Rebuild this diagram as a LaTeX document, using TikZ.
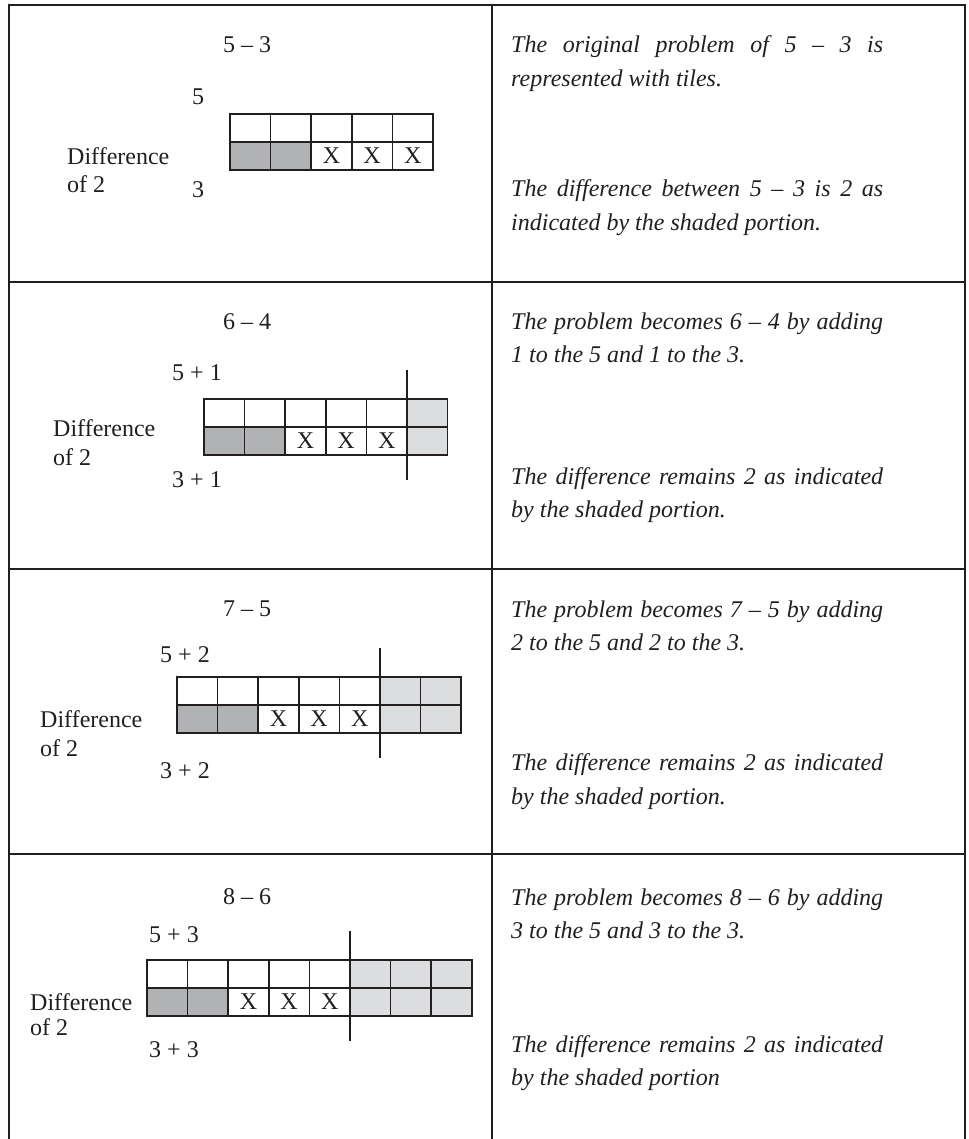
\documentclass[tikz,border=0pt]{standalone}
\usepackage{fontspec}
\setmainfont{Liberation Serif}
\definecolor{ink}{HTML}{231F20}
\definecolor{darkcell}{HTML}{B1B2B4}
\definecolor{lightcell}{HTML}{DCDDDF}
\newcommand\justline[1]{\makebox[372pt][s]{#1}}
\tikzset{
  tableline/.style={draw=ink, line width=2.6pt},
  cell/.style={draw=ink, line width=1.5pt},
  marker/.style={draw=ink, line width=1.1pt},
  lbl/.style={text=ink, inner sep=0pt, font=\fontsize{24}{28}\selectfont},
  xmark/.style={text=ink, inner sep=0pt, font=\fontsize{24}{28}\selectfont},
  expl/.style={text=ink, inner sep=0pt, anchor=base west, font=\fontsize{24}{33}\selectfont\itshape},
}
\begin{document}
\begin{tikzpicture}[x=1pt,y=-1pt]
\useasboundingbox (0,0) rectangle (968,1139);
\fill[white] (0,0) rectangle (968,1139);

% table
\draw[tableline] (9,1139) -- (9,5) -- (965,5) -- (965,1139);
\draw[tableline] (492,5) -- (492,1139);
\draw[tableline] (9,282) -- (965,282);
\draw[tableline] (9,569) -- (965,569);
\draw[tableline] (9,854) -- (965,854);

% tile strips: x0 / ytop / number of extra columns
\foreach \xo/\yt/\n in {230/114/0, 204/399/1, 177/677/2, 147/960/3}{
  \foreach \i in {0,...,4}{
    \draw[cell, fill=white] ({\xo+\i*40.6},\yt) rectangle ++(40.6,28);
  }
  \foreach \i in {0,1}{
    \draw[cell, fill=darkcell] ({\xo+\i*40.6},\yt+28) rectangle ++(40.6,28);
  }
  \foreach \i in {2,3,4}{
    \draw[cell, fill=white] ({\xo+\i*40.6},\yt+28) rectangle ++(40.6,28);
    \node[xmark] (x-\yt-\i) at ({\xo+\i*40.6+20.3},\yt+42) {X};
  }
  \foreach \j in {1,2,3}{
    \ifnum\j>\n\relax\else
      \draw[cell, fill=lightcell] ({\xo+(4+\j)*40.6},\yt) rectangle ++(40.6,28);
      \draw[cell, fill=lightcell] ({\xo+(4+\j)*40.6},\yt+28) rectangle ++(40.6,28);
    \fi
  }
  \ifnum\n>0
    \draw[marker] ({\xo+5*40.6},\yt-29) -- ({\xo+5*40.6},\yt+81);
  \fi
}

% row 1 labels
\node[lbl] (p1) at (247,45) {5 -- 3};
\node[lbl] (t1) at (198,97) {5};
\node[lbl] (b1) at (198,190) {3};
\node[lbl, anchor=west] (d1) at (67,156) {Difference};
\node[lbl, anchor=west] (o1) at (67,184) {of 2};

% row 2 labels
\node[lbl] (p2) at (247,322) {6 -- 4};
\node[lbl] (t2) at (197,373) {5 + 1};
\node[lbl] (b2) at (197,480) {3 + 1};
\node[lbl, anchor=west] (d2) at (53,428) {Difference};
\node[lbl, anchor=west] (o2) at (53,457) {of 2};

% row 3 labels
\node[lbl] (p3) at (247,609) {7 -- 5};
\node[lbl] (t3) at (185,655) {5 + 2};
\node[lbl] (b3) at (185,771) {3 + 2};
\node[lbl, anchor=west] (d3) at (40,719) {Difference};
\node[lbl, anchor=west] (o3) at (40,748) {of 2};

% row 4 labels
\node[lbl] (p4) at (247,897) {8 -- 6};
\node[lbl] (t4) at (174,935) {5 + 3};
\node[lbl] (b4) at (174,1050) {3 + 3};
\node[lbl, anchor=west] (d4) at (30,1002) {Difference};
\node[lbl, anchor=west] (o4) at (30,1027) {of 2};

% explanations
\node[expl] (e1a) at (511,53) {\justline{The original problem of 5 -- 3 is}};
\node[expl] (e1b) at (511,87) {represented with tiles.};
\node[expl] (e1c) at (511,197) {\justline{The difference between 5 -- 3 is 2 as}};
\node[expl] (e1d) at (511,231) {indicated by the shaded portion.};

\node[expl] (e2a) at (511,329) {\justline{The problem becomes 6 -- 4 by adding}};
\node[expl] (e2b) at (511,362) {1 to the 5 and 1 to the 3.};
\node[expl] (e2c) at (511,484) {\justline{The difference remains 2 as indicated}};
\node[expl] (e2d) at (511,517) {by the shaded portion.};

\node[expl] (e3a) at (511,617) {\justline{The problem becomes 7 -- 5 by adding}};
\node[expl] (e3b) at (511,650) {2 to the 5 and 2 to the 3.};
\node[expl] (e3c) at (511,770) {\justline{The difference remains 2 as indicated}};
\node[expl] (e3d) at (511,804) {by the shaded portion.};

\node[expl] (e4a) at (511,905) {\justline{The problem becomes 8 -- 6 by adding}};
\node[expl] (e4b) at (511,938) {3 to the 5 and 3 to the 3.};
\node[expl] (e4c) at (511,1052) {\justline{The difference remains 2 as indicated}};
\node[expl] (e4d) at (511,1085) {by the shaded portion};
\end{tikzpicture}
\end{document}
